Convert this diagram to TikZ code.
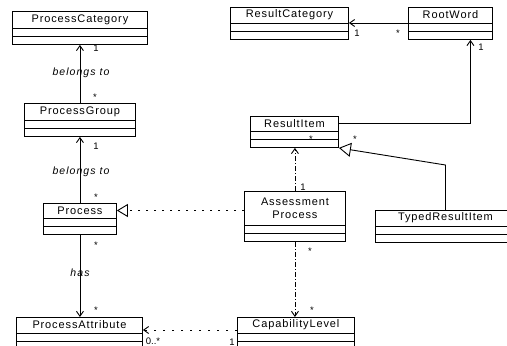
\documentclass[tikz,border=0pt]{standalone}
\usepackage{fontspec}
\setmainfont{Liberation Sans}
\newfontfamily\clsfont[LetterSpace=8]{Liberation Sans}
\newfontfamily\rolefont[LetterSpace=10]{Liberation Sans}
\usetikzlibrary{arrows.meta,calc}
\tikzset{
 clsbox/.style={draw, line width=0.9pt, inner sep=0pt, fill=white},
 clstext/.style={font=\clsfont\fontsize{11}{13}\selectfont, inner sep=0pt, align=center},
 clsline/.style={line width=0.9pt},
 assoc/.style={line width=0.9pt, -{Straight Barb[length=5pt,width=7pt]}},
 dep/.style={assoc, dash pattern=on 5pt off 2pt on 1pt off 2pt},
 real/.style={line width=0.9pt, dash pattern=on 2pt off 6pt, -{Triangle[open,length=11pt,width=13pt]}},
 gen/.style={line width=0.9pt, -{Triangle[open,length=12pt,width=14pt]}},
 mult/.style={font=\fontsize{9.5}{10}\selectfont, inner sep=0pt},
 rolelbl/.style={font=\rolefont\itshape\fontsize{10.5}{12}\selectfont, inner sep=1pt},
}
\newcommand{\umlcls}[6]{%
 \node[clsbox, minimum width=#4, minimum height=#5+16, anchor=north west] (#1) at (#2,#3) {};
 \node[clstext] (#1-t) at ([yshift=-#5*0.5]#1.north) {#6};
 \draw[clsline] ([yshift=-#5]#1.north west) -- ([yshift=-#5]#1.north east);
 \draw[clsline] ([yshift=-#5-8]#1.north west) -- ([yshift=-#5-8]#1.north east);
}
\begin{document}
\begin{tikzpicture}[x=1pt,y=-1pt]
\useasboundingbox (0,0) rectangle (507,346);
\clip (0,0) rectangle (507,346);
% classes
\umlcls{pc}{12}{11}{135}{17}{ProcessCategory}
\umlcls{rc}{230}{7}{118}{16}{ResultCategory}
\umlcls{rw}{408}{7}{84}{16}{RootWord}
\umlcls{pg}{24}{103}{111}{17}{ProcessGroup}
\umlcls{ri}{250}{116}{88}{15}{ResultItem}
\umlcls{pr}{43}{203}{73}{15}{Process}
\umlcls{ap}{244}{191}{101}{34}{Assessment\\Process}
\umlcls{tr}{375}{210}{140}{16}{TypedResultItem}
\umlcls{pa}{16}{317}{126}{16}{ProcessAttribute}
\umlcls{cl}{237}{317}{117}{16}{CapabilityLevel}
% connectors
\draw[assoc] (pg.north) -- (pc.south);
\draw[assoc] (pr.north) -- (pg.south);
\draw[assoc] (pr.south) -- (pr.south |- pa.north);
\draw[assoc] ([yshift=-16]rw.north west) -- ([yshift=-16]rc.north east);
\draw[assoc] (ri.east |- ri-t) -| ([xshift=20]rw.south);
\draw[gen] (tr.north) -- ++(0,-45) -- (ri.south east);
\draw[real] (ap.west |- pr-t) -- (pr.east |- pr-t);
\draw[dep] (ap.north) -- (ap.north |- ri.south);
\draw[dep] (ap.south) -- (ap.south |- cl.north);
\draw[assoc, dash pattern=on 2pt off 7pt] ([yshift=-13]cl.north west) -- ([yshift=-13]pa.north east);
% role labels
\node[rolelbl] (l1) at (81,73) {belongs to};
\node[rolelbl] (l2) at (81,172) {belongs to};
\node[rolelbl] (l3) at (80,273) {has};
% multiplicities
\node[mult] (m1) at (96,48) {1};
\node[mult] (m2) at (95,97) {*};
\node[mult] (m3) at (96,146) {1};
\node[mult] (m4) at (96,197) {*};
\node[mult] (m5) at (96,245) {*};
\node[mult] (m6) at (96,310) {*};
\node[mult] (m7) at (357,33) {1};
\node[mult] (m8) at (398,33) {*};
\node[mult] (m9) at (481,47) {1};
\node[mult] (m10) at (355,139) {*};
\node[mult] (m11) at (311,139) {*};
\node[mult] (m12) at (303,187) {1};
\node[mult] (m13) at (310,251) {*};
\node[mult] (m14) at (312,310) {*};
\node[mult] (m15) at (153,341) {0..*};
\node[mult] (m16) at (232,342) {1};
\end{tikzpicture}
\end{document}
